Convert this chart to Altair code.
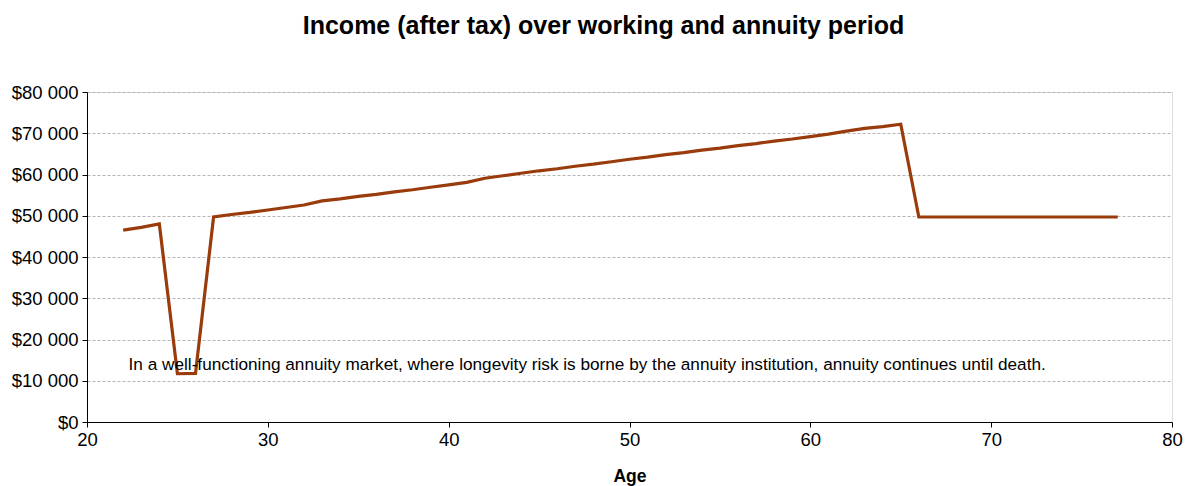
import altair as alt
import pandas as pd

ages = list(range(22, 78))
income = [46500, 47200, 48000, 11700, 11800, 49700, 50300, 50800, 51400, 52000,
          52600, 53600, 54100, 54700, 55200, 55800, 56300, 56900, 57500, 58100,
          59100, 59700, 60300, 60900, 61400, 62000, 62500, 63100, 63700, 64200,
          64800, 65300, 65900, 66400, 67000, 67500, 68100, 68600, 69200, 69800,
          70500, 71200, 71600, 72200,
          49700, 49700, 49700, 49700, 49700, 49700, 49700, 49700, 49700, 49700,
          49700, 49700]

note_text = ["In a well-functioning annuity market, where longevity risk is borne by the annuity institution, annuity continues until death."]
note_x = [22.3]
note_y = [13800]

df = pd.DataFrame({"age": ages, "income": income})
notes = pd.DataFrame({"x": note_x, "y": note_y, "t": note_text})

FONT = "Liberation Sans"

x_enc = alt.X("age:Q", title="Age",
              scale=alt.Scale(domain=[20, 80], nice=False, zero=False),
              axis=alt.Axis(values=[20, 30, 40, 50, 60, 70, 80], grid=False,
                            labelFlush=False,
                            domainColor="#000000", tickColor="#000000", tickSize=5,
                            labelFontSize=18.5, labelColor="#000000", labelFont=FONT,
                            labelPadding=3, titleFont=FONT, titleFontSize=17.5,
                            titleFontWeight="bold", titleColor="#000000",
                            titlePadding=19))
y_enc = alt.Y("income:Q", title=None,
              scale=alt.Scale(domain=[0, 80000], nice=False),
              axis=alt.Axis(values=list(range(0, 80001, 10000)),
                            labelExpr='"$" + replace(format(datum.value, ","), ",", " ")',
                            grid=True, gridColor="#b4b4b4", gridDash=[3, 2], gridWidth=1,
                            domainColor="#000000", tickColor="#000000", tickSize=5,
                            labelFontSize=18.5, labelColor="#000000", labelFont=FONT,
                            labelPadding=4))

line = alt.Chart(df).mark_line(color="#9a3b0c", strokeWidth=3.2).encode(x=x_enc, y=y_enc)

text = alt.Chart(notes).mark_text(align="left", baseline="middle", font=FONT,
                                  fontSize=17.2, color="#000000").encode(
    x=alt.X("x:Q"), y=alt.Y("y:Q"), text="t:N")

chart = alt.layer(line, text).properties(
    width=1085, height=330,
    title=alt.TitleParams("Income (after tax) over working and annuity period",
                          font=FONT, fontSize=25, fontWeight="bold", color="#000000",
                          anchor="middle", offset=44, dx=-26),
    autosize=alt.AutoSizeParams(type="none"),
    padding={"left": 87, "top": 92, "right": 14, "bottom": 64},
).configure_view(stroke=None).configure(background="white")

chart.save("out.html", embed_options={"renderer": "svg", "actions": False})
